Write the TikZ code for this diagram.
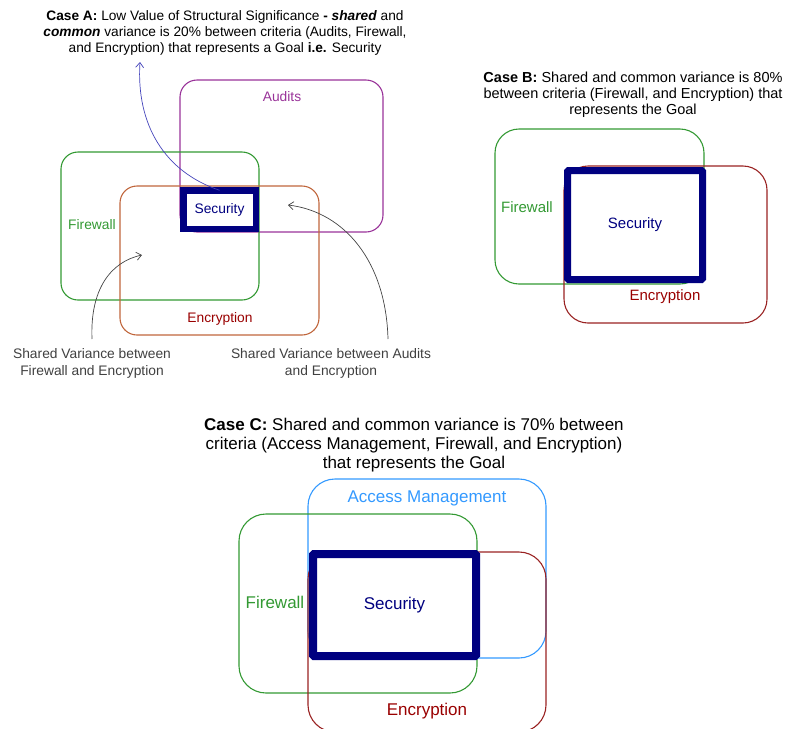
\documentclass[tikz,border=0pt]{standalone}
\usepackage{fontspec}
\setmainfont{Liberation Sans}
\usetikzlibrary{arrows.meta}
\definecolor{fwgreen}{HTML}{339933}
\definecolor{audpurple}{HTML}{993399}
\definecolor{encbrown}{HTML}{C0663C}
\definecolor{encred}{HTML}{992222}
\definecolor{lblred}{HTML}{990000}
\definecolor{secnavy}{HTML}{000080}
\definecolor{accblue}{HTML}{3399FF}
\definecolor{arrgray}{HTML}{444444}
\definecolor{arrblue}{HTML}{4444BB}
\begin{document}
\begin{tikzpicture}[x=1pt,y=-1pt,
  setbox/.style={draw, line width=1.1pt, rounded corners=#1, inner sep=0pt, outer sep=0pt, anchor=north west},
  secbox/.style={draw=secnavy, line width=#1, fill=white, inner sep=0pt, outer sep=0pt, text=secnavy},
  lbl/.style={inner sep=0pt, font=\fontsize{#1}{#1}\selectfont},
  ttl/.style={inner sep=0pt, align=center},
  conn/.style={line width=0.7pt, -{Straight Barb[length=5pt,width=8pt]}}
]
\useasboundingbox (0,0) rectangle (788,729);

% ---------- Case A ----------
\node[ttl, font=\fontsize{13.7}{16}\selectfont] (titleA) at (225,32.5)
 {\textbf{Case A:} Low Value of Structural Significance \textbf{-} \textbf{\textit{shared}} and\\
  \textbf{\textit{common}} variance is 20\% between criteria (Audits, Firewall,\\
  and Encryption) that represents a Goal \textbf{i.e.} Security};

\node[setbox=17pt, draw=audpurple, minimum width=203pt, minimum height=152pt] (audA) at (180,80) {};
\node[setbox=17pt, draw=fwgreen, minimum width=198pt, minimum height=148pt] (fwA) at (61,152) {};
\node[setbox=17pt, draw=encbrown, minimum width=199pt, minimum height=149pt] (encA) at (120,186) {};
\node[secbox=6.5pt, minimum width=72.5pt, minimum height=38.5pt, font=\fontsize{13.8}{13.8}\selectfont] (secA) at (219.5,209.5) {Security};

\node[lbl=13.8, text=audpurple] (audAl) at (282,97) {Audits};
\node[lbl=13.8, text=fwgreen] (fwAl) at (92,225) {Firewall};
\node[lbl=13.8, text=lblred] (encAl) at (220,319) {Encryption};

\node[ttl, font=\fontsize{13.8}{17}\selectfont, text=black!75] (shFE) at (92,363.5)
 {Shared Variance between\\Firewall and Encryption};
\node[ttl, font=\fontsize{13.8}{17}\selectfont, text=black!75] (shAE) at (331,363.5)
 {Shared Variance between Audits\\and Encryption};

\coordinate (blueEnd) at (140,62);
\coordinate (fePt) at (142,255);
\coordinate (aePt) at (288,205);
\coordinate (feStart) at (92,339);
\coordinate (aeStart) at (388,339);

\draw[conn, draw=arrblue] (secA.north) .. controls (165,172) and (136,125) .. (blueEnd);
\draw[conn, draw=arrgray] (feStart) .. controls (90,290) and (110,262) .. (fePt);
\draw[conn, draw=arrgray] (aeStart) .. controls (386,262) and (345,212) .. (aePt);

% ---------- Case B ----------
\node[ttl, font=\fontsize{14.5}{16}\selectfont] (titleB) at (633,95)
 {\textbf{Case B:} Shared and common variance is 80\%\\
  between criteria (Firewall, and Encryption) that\\
  represents the Goal};

\node[setbox=24pt, draw=fwgreen, minimum width=209pt, minimum height=155pt] (fwB) at (495,129) {};
\node[setbox=24pt, draw=encred, minimum width=203pt, minimum height=157pt] (encB) at (564,166) {};
\node[secbox=7pt, minimum width=135pt, minimum height=109pt, rounded corners=1pt, font=\fontsize{15}{15}\selectfont] (secB) at (635,225) {Security};

\node[lbl=15, text=fwgreen] (fwBl) at (527,207) {Firewall};
\node[lbl=15, text=lblred] (encBl) at (665,297) {Encryption};

% ---------- Case C ----------
\node[ttl, font=\fontsize{17}{19}\selectfont] (titleC) at (414,445)
 {\textbf{Case C:} Shared and common variance is 70\% between\\
  criteria (Access Management, Firewall, and Encryption)\\
  that represents the Goal};

\node[setbox=27pt, draw=accblue, minimum width=238pt, minimum height=179pt] (accC) at (308,479) {};
\node[setbox=27pt, draw=fwgreen, minimum width=238pt, minimum height=179pt] (fwC) at (239,514) {};
\node[setbox=27pt, draw=encred, minimum width=238pt, minimum height=180pt] (encC) at (308,552) {};
\node[secbox=8pt, minimum width=163pt, minimum height=102pt, rounded corners=1pt, font=\fontsize{17}{17}\selectfont] (secC) at (394.5,605) {Security};

\node[lbl=17, text=accblue] (accCl) at (427,498) {Access Management};
\node[lbl=17, text=fwgreen] (fwCl) at (275,602) {Firewall};
\node[lbl=17, text=lblred] (encCl) at (427,711) {Encryption};
\end{tikzpicture}
\end{document}
